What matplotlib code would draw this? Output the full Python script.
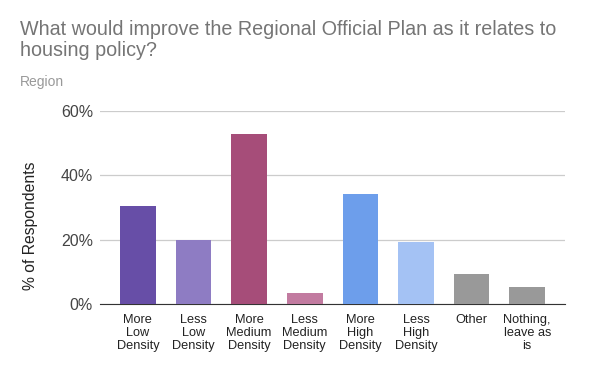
import matplotlib
matplotlib.use("Agg")
import matplotlib.pyplot as plt
from matplotlib.ticker import FuncFormatter

# categories and values
categories = ["More\nLow\nDensity", "Less\nLow\nDensity", "More\nMedium\nDensity",
              "Less\nMedium\nDensity", "More\nHigh\nDensity", "Less\nHigh\nDensity",
              "Other", "Nothing,\nleave as\nis"]
values = [30.5, 19.9, 52.8, 3.5, 34.2, 19.3, 9.4, 5.3]
colors = ["#674ea7", "#8e7cc3", "#a64d79", "#c27ba0",
          "#6d9eeb", "#a4c2f4", "#999999", "#999999"]
yticks = [0, 20, 40, 60]

plt.rcParams["font.family"] = ["Liberation Sans", "DejaVu Sans"]

fig = plt.figure(figsize=(6, 3.71), dpi=100)
ax = fig.add_axes([0.1667, 0.1806, 0.775, 0.5202])

x = range(len(categories))
ax.bar(x, values, width=0.64, color=colors, zorder=3)

ax.set_xlim(-0.68, len(categories) - 0.32)
ax.set_ylim(0, 60)
ax.set_yticks(yticks)
ax.yaxis.set_major_formatter(FuncFormatter(lambda v, p: "%d%%" % v))
ax.grid(axis="y", color="#cccccc", linewidth=0.9, zorder=0)
ax.set_xticks(list(x))
ax.set_xticklabels(categories, fontsize=9.2, color="#222222", linespacing=1.1)

for s in ["top", "right", "left"]:
    ax.spines[s].set_visible(False)
ax.spines["bottom"].set_color("#333333")
ax.tick_params(axis="both", length=0)
ax.tick_params(axis="y", labelsize=11.5, labelcolor="#444444", pad=5)
ax.tick_params(axis="x", pad=7)

ax.set_ylabel("% of Respondents", fontsize=11.3, color="#222222")
ax.yaxis.set_label_coords(-0.134, 0.404)

fig.text(0.033, 0.947, "What would improve the Regional Official Plan as it relates to\nhousing policy?",
         fontsize=14.2, color="#757575", va="top", ha="left", linespacing=1.15)
fig.text(0.033, 0.797, "Region", fontsize=10, color="#999999", va="top", ha="left")

fig.savefig("out.png", dpi=100)
